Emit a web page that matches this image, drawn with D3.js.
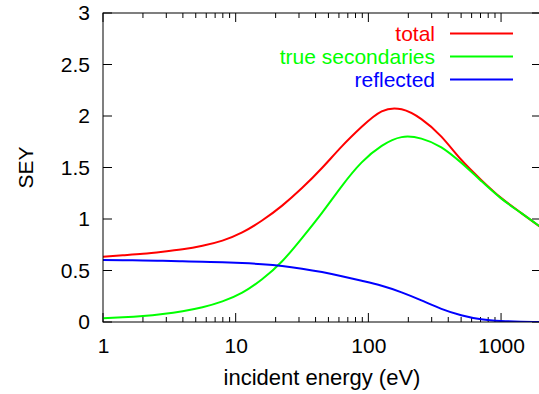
<!DOCTYPE html>
<html>
<head>
<meta charset="utf-8">
<script src="https://cdn.jsdelivr.net/npm/d3@7"></script>
<style>
  html, body { margin: 0; padding: 0; background: #fff; overflow: hidden; }
  svg { display: block; font-family: "Liberation Sans", Arial, sans-serif; }
</style>
</head>
<body>
<script>
// ---- data ----
const energies = [1, 1.41, 2, 2.82, 3.98, 5.62, 7.94, 11.2, 15.8, 22.4, 31.6, 44.7, 63.1, 89.1, 126, 178, 251, 355, 501, 708, 1000, 1413, 1995];
const total = [0.634, 0.648, 0.662, 0.682, 0.706, 0.74, 0.79, 0.87, 0.985, 1.13, 1.30, 1.495, 1.705, 1.895, 2.045, 2.065, 1.97, 1.80, 1.575, 1.38, 1.205, 1.06, 0.92];
const trueSecondaries = [0.036, 0.045, 0.058, 0.078, 0.105, 0.143, 0.20, 0.285, 0.415, 0.59, 0.815, 1.06, 1.32, 1.55, 1.71, 1.795, 1.78, 1.695, 1.545, 1.37, 1.20, 1.06, 0.92];
const reflected = [0.602, 0.600, 0.597, 0.594, 0.590, 0.585, 0.579, 0.572, 0.561, 0.544, 0.518, 0.485, 0.445, 0.40, 0.352, 0.288, 0.21, 0.128, 0.066, 0.027, 0.01, 0.003, 0.001];
const seriesNames = ["total", "true secondaries", "reflected"];
const seriesColors = ["#ff0000", "#00ff00", "#0000ff"];
const xTicks = [1, 10, 100, 1000];
const yTicks = [0, 0.5, 1, 1.5, 2, 2.5, 3];

const W = 539, H = 394;
const L = 103, R = 541, T = 13, B = 322;

const svg = d3.select("body").append("svg").attr("width", W).attr("height", H);

const x = d3.scaleLog().domain([1, 2000]).range([L, R]);
const y = d3.scaleLinear().domain([0, 3]).range([B, T]);

svg.append("defs").append("clipPath").attr("id", "clip")
  .append("rect").attr("x", L).attr("y", T).attr("width", R - L).attr("height", B - T);

const minor = [];
for (let d = 1; d <= 1000; d *= 10) for (let k = 2; k <= 9; k++) { if (d * k <= 2000) minor.push(d * k); }

const axisColor = "#000";
const g = svg.append("g");

const bottom = d3.axisBottom(x).tickValues(xTicks).tickFormat(d3.format("d")).tickSize(0).tickPadding(16);
g.append("g").attr("transform", `translate(0,${B})`).call(bottom)
  .call(s => s.select(".domain").remove())
  .call(s => s.selectAll("text").attr("font-size", 21).attr("fill", "#000").attr("font-family", "Liberation Sans, Arial, sans-serif"));

xTicks.forEach(v => {
  g.append("line").attr("x1", x(v)).attr("x2", x(v)).attr("y1", B).attr("y2", B - 9).attr("stroke", axisColor);
  g.append("line").attr("x1", x(v)).attr("x2", x(v)).attr("y1", T).attr("y2", T + 9).attr("stroke", axisColor);
});
minor.forEach(v => {
  g.append("line").attr("x1", x(v)).attr("x2", x(v)).attr("y1", B).attr("y2", B - 5).attr("stroke", axisColor);
  g.append("line").attr("x1", x(v)).attr("x2", x(v)).attr("y1", T).attr("y2", T + 5).attr("stroke", axisColor);
});

const left = d3.axisLeft(y).tickValues(yTicks).tickFormat(d => String(d)).tickSize(0).tickPadding(13);
g.append("g").attr("transform", `translate(${L},0)`).call(left)
  .call(s => s.select(".domain").remove())
  .call(s => s.selectAll("text").attr("font-size", 21).attr("fill", "#000").attr("font-family", "Liberation Sans, Arial, sans-serif"));

yTicks.forEach(v => {
  g.append("line").attr("x1", L).attr("x2", L + 9).attr("y1", y(v)).attr("y2", y(v)).attr("stroke", axisColor);
  g.append("line").attr("x1", R).attr("x2", R - 9).attr("y1", y(v)).attr("y2", y(v)).attr("stroke", axisColor);
});

const allSeries = [total, trueSecondaries, reflected];
const line = d3.line().x(d => x(d[0])).y(d => y(d[1])).curve(d3.curveNatural);
const plot = svg.append("g").attr("clip-path", "url(#clip)");
allSeries.forEach((vals, i) => {
  plot.append("path")
    .datum(energies.map((e, j) => [e, vals[j]]))
    .attr("d", line)
    .attr("fill", "none")
    .attr("stroke", seriesColors[i])
    .attr("stroke-width", 2);
});

svg.append("rect").attr("x", L).attr("y", T).attr("width", R - L).attr("height", B - T)
  .attr("fill", "none").attr("stroke", axisColor).attr("stroke-width", 1);

seriesNames.forEach((name, i) => {
  const ly = 33.5 + i * 23;
  svg.append("text").attr("x", 435).attr("y", ly + 7.5).attr("text-anchor", "end")
    .attr("font-size", 21).attr("fill", seriesColors[i]).text(name);
  svg.append("line").attr("x1", 450).attr("x2", 513).attr("y1", ly).attr("y2", ly)
    .attr("stroke", seriesColors[i]).attr("stroke-width", 2);
});

svg.append("text").attr("x", (L + R) / 2).attr("y", 384.5).attr("text-anchor", "middle")
  .attr("font-size", 22).attr("fill", "#000").text("incident energy (eV)");
svg.append("text").attr("transform", `translate(33,${(T + B) / 2}) rotate(-90)`)
  .attr("text-anchor", "middle").attr("font-size", 21).attr("fill", "#000").text("SEY");
</script>
</body>
</html>
